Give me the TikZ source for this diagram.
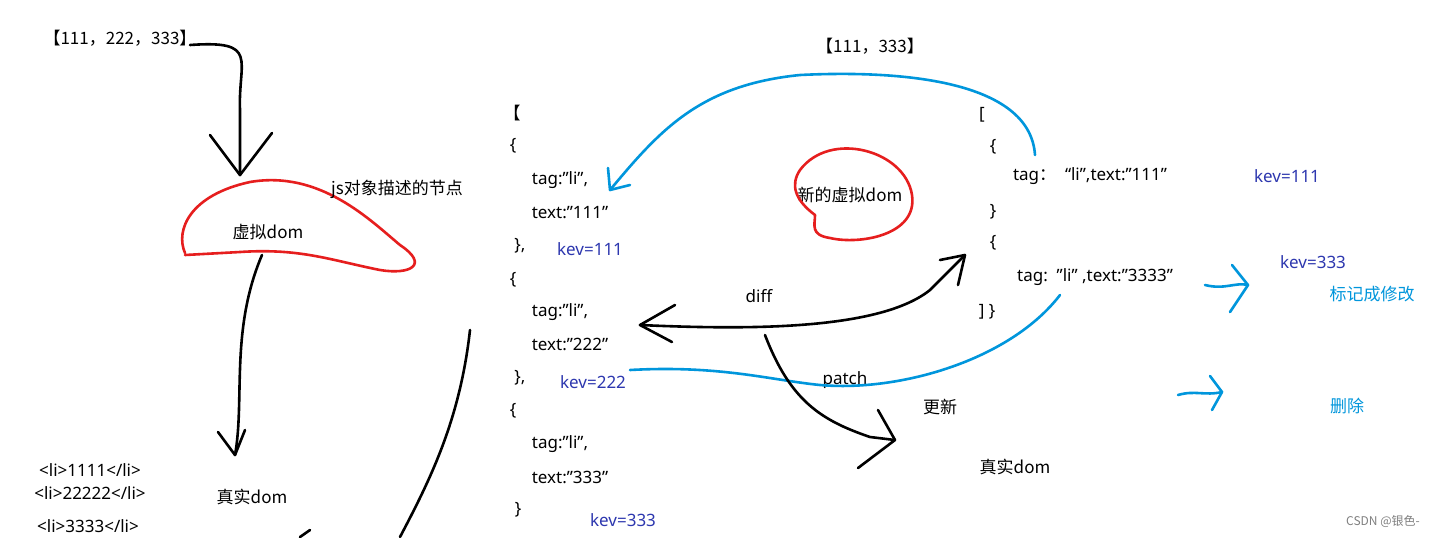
\documentclass[tikz,border=0pt]{standalone}
\usepackage{fontspec}
\setmainfont{Noto Sans}
\newfontfamily\cjk{Noto Sans CJK SC}
\begin{document}
\begin{tikzpicture}[x=0.5pt,y=-0.5pt,
  t/.style={font=\fontsize{8.5}{10}\selectfont,inner sep=0pt},
  c/.style={font=\fontsize{8.5}{10}\selectfont\cjk,inner sep=0pt},
  kev/.style={t,text=kb},
  lb/.style={c,text=lblue},
  pen/.style={line width=1.3pt,line cap=round,line join=round},
  ]
\definecolor{kb}{RGB}{45,55,175}
\definecolor{lblue}{RGB}{0,150,220}
\definecolor{pred}{RGB}{230,30,30}
\useasboundingbox (0,0) rectangle (1435,537);
\fill[white] (0,0) rectangle (1435,537);
% left
\node[c] (arr) at (120,38) {【111，222，333】};
\coordinate (a1) at (190,45);
\coordinate (a2) at (240,175);
\draw[pen] (a1) .. controls (260,40) and (238,60) .. (240,110) -- (a2);
\draw[pen] (210,135) -- (a2) -- (272,133);
\node[c] (vd) at (268,232) {虚拟dom};
\draw[pen,pred] (185,253) .. controls (175,230) and (190,195) .. (250,182)
 .. controls (320,170) and (370,220) .. (400,245)
 .. controls (430,265) and (410,275) .. (380,270)
 .. controls (330,260) and (300,248) .. (240,252) -- (185,255);
\node[c] (js) at (397,189) {js对象描述的节点};
\coordinate (b1) at (262,255);
\coordinate (b2) at (235,455);
\draw[pen] (b1) .. controls (230,330) and (245,400) .. (b2);
\draw[pen] (218,432) -- (b2) -- (245,430);
\node[c] (rd) at (252,497) {真实dom};
\node[t] (l1) at (90,470) {<li>1111</li>};
\node[t] (l2) at (90,493) {<li>22222</li>};
\node[t] (l3) at (88,526) {<li>3333</li>};
\draw[pen] (470,330) .. controls (460,420) and (430,480) .. (400,537);
\draw[pen] (300,537) -- (310,530);
% middle code
\node[c] (m0) at (512,113) {【};
\node[t] (m1) at (513,146) {\{};
\node[t] (m2) at (560,180) {tag:"li",};
\node[t] (m3) at (570,213) {text:"111"};
\node[t] (m4) at (520,246) {\},};
\node[kev] (k1) at (590,249) {kev=111};
\node[t] (m5) at (513,280) {\{};
\node[t] (m6) at (560,312) {tag:"li",};
\node[t] (m7) at (570,344) {text:"222"};
\node[t] (m8) at (520,378) {\},};
\node[kev] (k2) at (593,382) {kev=222};
\node[t] (m9) at (513,411) {\{};
\node[t] (m10) at (560,444) {tag:"li",};
\node[t] (m11) at (570,477) {text:"333"};
\node[t] (m12) at (518,510) {\}};
\node[kev] (k3) at (623,520) {kev=333};
% top
\node[c] (arr2) at (870,46) {【111，333】};
\coordinate (c1) at (1035,155);
\coordinate (c2) at (610,190);
\draw[pen,lblue] (c1) .. controls (1030,80) and (900,70) .. (800,75)
 .. controls (700,85) and (660,130) .. (c2);
\draw[pen,lblue] (608,168) -- (c2) -- (630,185);
\node[c] (nvd) at (850,195) {新的虚拟dom};
\draw[pen,pred] (800,170) .. controls (830,130) and (905,150) .. (912,195)
 .. controls (918,235) and (860,245) .. (830,238) .. controls (810,235) and (815,225) .. (815,215)
 .. controls (795,200) and (790,185) .. (800,170);
% right code
\node[t] (r0) at (982,115) {[};
\node[t] (r1) at (993,147) {\{};
\node[t] (r2) at (1090,176) {tag{\cjk：}\ \ “li”,text:"111"};
\node[t] (r3) at (993,212) {\}};
\node[t] (r4) at (993,243) {\{};
\node[t] (r5) at (1095,277) {tag:\ \ "li" ,text:"3333"};
\node[t] (r6) at (987,312) {] \}};
\node[kev] (k4) at (1287,176) {kev=111};
\node[kev] (k5) at (1313,262) {kev=333};
\node[lb] (mod) at (1372,294) {标记成修改};
\node[lb] (del) at (1347,406) {删除};
\coordinate (d1) at (1205,285); \coordinate (d2) at (1248,285);
\draw[pen,lblue] (d1) .. controls (1225,290) and (1235,282) .. (d2);
\draw[pen,lblue] (1232,265) -- (d2) -- (1230,312);
\coordinate (e1) at (1178,395); \coordinate (e2) at (1222,392);
\draw[pen,lblue] (e1) .. controls (1195,390) and (1205,396) .. (e2);
\draw[pen,lblue] (1210,376) -- (e2) -- (1212,410);
% diff
\node[t] (diff) at (759,296) {diff};
\coordinate (f1) at (640,325); \coordinate (f2) at (965,255);
\draw[pen] (f1) .. controls (750,330) and (880,330) .. (930,290) -- (f2);
\draw[pen] (675,305) -- (f1) -- (672,342);
\draw[pen] (940,260) -- (f2) -- (958,285);
% patch
\node[t] (patch) at (845,380) {patch};
\draw[pen,lblue] (630,370) .. controls (720,365) and (770,380) .. (820,385)
 .. controls (900,392) and (1010,360) .. (1060,295);
% update
\coordinate (g1) at (765,335); \coordinate (g2) at (895,440);
\draw[pen] (g1) .. controls (790,400) and (820,420) .. (870,437) -- (g2);
\draw[pen] (878,410) -- (g2) -- (858,468);
\node[c] (upd) at (940,407) {更新};
\node[c] (rd2) at (1015,467) {真实dom};
\node[c,font=\fontsize{6}{7}\selectfont\cjk,text=gray] (csdn) at (1383,521) {CSDN @银色-};
\end{tikzpicture}
\end{document}
